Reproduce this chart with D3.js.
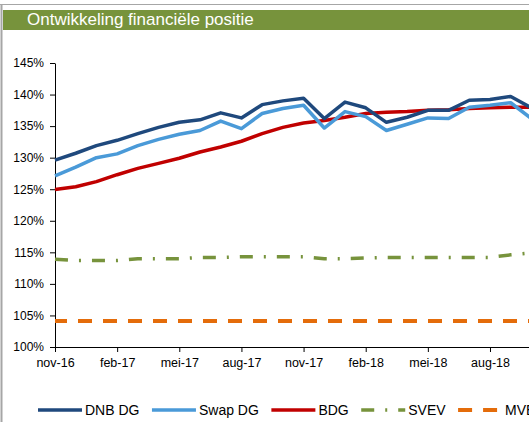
<!DOCTYPE html>
<html>
<head>
<meta charset="utf-8">
<script src="https://cdn.jsdelivr.net/npm/d3@7"></script>
<style>
	body { margin: 0; background: #fff; overflow: hidden; }
	svg { display: block; font-family: Arial, "Liberation Sans", sans-serif; }
</style>
</head>
<body>
<svg id="chart"></svg>
<script>
var months = ['nov-16','dec-16','jan-17','feb-17','mrt-17','apr-17','mei-17','jun-17','jul-17','aug-17','sep-17','okt-17',
	'nov-17','dec-17','jan-18','feb-18','mrt-18','apr-18','mei-18','jun-18','jul-18','aug-18','sep-18','okt-18','nov-18','dec-18']
var tickMonths = ['nov-16','feb-17','mei-17','aug-17','nov-17','feb-18','mei-18','aug-18']
var yTicks = [1.00, 1.05, 1.10, 1.15, 1.20, 1.25, 1.30, 1.35, 1.40, 1.45]

var dnbDG  = [1.296,1.307,1.319,1.3275,1.338,1.348,1.356,1.360,1.371,1.363,1.384,1.390,1.394,1.362,1.388,1.379,1.356,1.364,1.375,1.375,1.391,1.392,1.397,1.379]
var swapDG = [1.271,1.285,1.300,1.306,1.319,1.329,1.337,1.343,1.358,1.346,1.370,1.378,1.383,1.347,1.373,1.365,1.343,1.353,1.363,1.362,1.380,1.383,1.387,1.362]
var bdg    = [1.2495,1.254,1.262,1.273,1.283,1.291,1.299,1.309,1.317,1.326,1.338,1.348,1.355,1.359,1.364,1.370,1.372,1.373,1.375,1.376,1.378,1.379,1.380,1.380]
var svev   = [1.139,1.137,1.137,1.137,1.140,1.140,1.140,1.142,1.142,1.143,1.143,1.143,1.143,1.140,1.140,1.141,1.142,1.142,1.142,1.142,1.142,1.142,1.146,1.149]
var mvev   = [1.041,1.041,1.041,1.041,1.041,1.041,1.041,1.041,1.041,1.041,1.041,1.041,1.041,1.041,1.041,1.041,1.041,1.041,1.041,1.041,1.041,1.041,1.041,1.041]

var seriesNames = ['DNB DG', 'Swap DG', 'BDG', 'SVEV', 'MVEV']

var width = 529, height = 422

var series = [
	{name: seriesNames[0], values: dnbDG,  color: '#1F497D', w: 3.5, dash: null},
	{name: seriesNames[1], values: swapDG, color: '#4A9AD8', w: 3.5, dash: null},
	{name: seriesNames[2], values: bdg,    color: '#C00000', w: 3.5, dash: null},
	{name: seriesNames[3], values: svev,   color: '#77933C', w: 3.5, dash: '13,11,2,11'},
	{name: seriesNames[4], values: mvev,   color: '#E46C0A', w: 4,   dash: '14,11', offset: 2}
]

var svg = d3.select('#chart')
	.attr('width', width)
	.attr('height', height)

// frame + title bar
svg.append('line')
	.attr('x1', 0).attr('x2', width).attr('y1', 4.5).attr('y2', 4.5)
	.attr('stroke', '#A6A6A6').attr('stroke-width', 1)
svg.append('line')
	.attr('x1', 1.5).attr('x2', 1.5).attr('y1', 4).attr('y2', height)
	.attr('stroke', '#A6A6A6').attr('stroke-width', 2)
svg.append('rect')
	.attr('x', 3).attr('y', 10).attr('width', width - 3).attr('height', 20)
	.attr('fill', '#77933C')
svg.append('text')
	.attr('x', 27).attr('y', 25)
	.attr('fill', '#fff')
	.style('font-size', '17px')
	.text('Ontwikkeling financiële positie')

var step = 20.714
var x = d3.scalePoint()
	.domain(months)
	.range([55, 55 + step * (months.length - 1)])

var y = d3.scaleLinear()
	.domain([1.00, 1.45])
	.range([347, 63])

var xAxis = svg.append('g')
	.attr('transform', 'translate(0,347)')
	.call(d3.axisBottom(x).tickValues(tickMonths).tickSize(5).tickSizeOuter(0).tickPadding(6))
xAxis.selectAll('text').style('font-size', '12.5px').attr('fill', '#000')

var yAxis = svg.append('g')
	.attr('transform', 'translate(55,0)')
	.call(d3.axisLeft(y).tickValues(yTicks).tickSize(5).tickSizeOuter(0).tickPadding(6)
		.tickFormat(d => Math.round(d * 100) + '%'))
yAxis.selectAll('text').style('font-size', '12px').attr('fill', '#000')

svg.selectAll('.domain, .tick line').attr('stroke', '#000')

var line = d3.line()
	.x((d, i) => x(months[i]))
	.y(d => y(d))

// draw back to front so the solid lines sit on top
series.slice().reverse().forEach(s => {
	svg.append('path')
		.datum(s.values)
		.attr('fill', 'none')
		.attr('stroke', s.color)
		.attr('stroke-width', s.w)
		.attr('stroke-linejoin', 'round')
		.attr('stroke-dasharray', s.dash)
		.attr('stroke-dashoffset', s.offset || 0)
		.attr('d', line)
})

// legend (last entry runs off the right edge, as in the original)
var lx = 38, ly = 410, sample = 44
series.forEach(s => {
	svg.append('line')
		.attr('x1', lx).attr('x2', lx + sample)
		.attr('y1', ly).attr('y2', ly)
		.attr('stroke', s.color)
		.attr('stroke-width', s.w)
		.attr('stroke-dasharray', s.dash)
	var t = svg.append('text')
		.attr('x', lx + sample + 3)
		.attr('y', ly + 5)
		.style('font-size', '14px')
		.attr('fill', '#000')
		.text(s.name)
	lx += sample + 3 + t.node().getComputedTextLength() + 12.5
})
</script>
</body>
</html>
